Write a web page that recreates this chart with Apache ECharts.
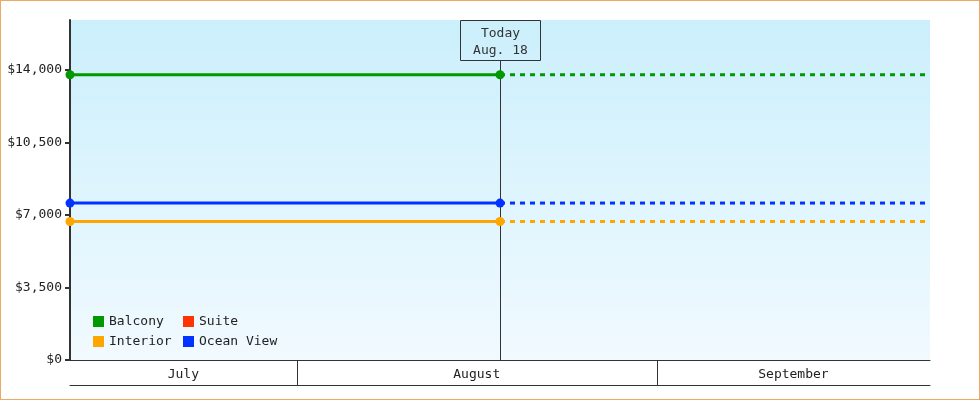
<!DOCTYPE html>
<html>
<head>
<meta charset="utf-8">
<script src="https://cdn.jsdelivr.net/npm/echarts@6/dist/echarts.min.js"></script>
<style>
  html, body { margin: 0; padding: 0; background: #fff; }
  #wrap { position: relative; width: 980px; height: 400px; }
  #main { width: 980px; height: 400px; }
  #frame { position: absolute; left: 0; top: 0; width: 980px; height: 400px; box-sizing: border-box; border: 1px solid #eba866; pointer-events: none; }
</style>
</head>
<body>
<div id="wrap">
  <div id="main"></div>
  <div id="frame"></div>
</div>
<script>
// cabin prices, known up to today, projected after
const seriesNames = ['Balcony', 'Suite', 'Interior', 'Ocean View']
const seriesColors = ['#009900', '#ff3300', '#ffa500', '#0033ff']
const currentPrices = [13760, null, 6680, 7570]

const rangeStart = '2024-07-12T12:00'
const today = '2024-08-18T12:00'
const rangeEnd = '2024-09-24T12:00'
const todayLabel = ['Today', 'Aug. 18']

const months = ['July', 'August', 'September']
const monthStart = ['2024-07-01T00:00', '2024-08-01T00:00', '2024-09-01T00:00']
const monthEnd = ['2024-08-01T00:00', '2024-09-01T00:00', '2024-10-01T00:00']

const yTicks = [0, 3500, 7000, 10500, 14000]
const yMax = 16400

const t = s => new Date(s).getTime()
const font = 'DejaVu Sans Mono'

var myChart = echarts.init(document.getElementById('main'))

let series = []
seriesNames.forEach(function (name, i) {
  let v = currentPrices[i]
  // solid part up to today, with dots
  series.push({
    name: name,
    type: 'line',
    color: seriesColors[i],
    data: v == null ? [] : [[t(rangeStart), v], [t(today), v]],
    symbol: 'circle',
    symbolSize: 9,
    lineStyle: { width: 3 },
    z: 3
  })
  // dashed projection after today
  series.push({
    name: name,
    type: 'line',
    color: seriesColors[i],
    data: v == null ? [] : [[t(today), v], [t(rangeEnd), v]],
    showSymbol: false,
    lineStyle: { width: 3, type: [5, 5] },
    z: 3
  })
})

// today marker: vertical line plus label box
series.push({
  type: 'custom',
  xAxisIndex: 0,
  yAxisIndex: 0,
  z: 1,
  silent: true,
  clip: false,
  data: [[t(today), 0]],
  renderItem: function (params, api) {
    let cs = params.coordSys
    let x = Math.round(api.coord([api.value(0), 0])[0]) + 0.5
    let bw = 80, bh = 40
    return {
      type: 'group',
      children: [
        {
          type: 'line',
          shape: { x1: x, y1: cs.y + bh, x2: x, y2: cs.y + cs.height },
          style: { stroke: '#333', lineWidth: 1 }
        },
        {
          type: 'rect',
          shape: { x: x - bw / 2, y: cs.y + 0.5, width: bw, height: bh },
          style: { fill: 'rgba(0,0,0,0)', stroke: '#333', lineWidth: 1 }
        },
        {
          type: 'text',
          x: x,
          y: cs.y + bh / 2 + 2,
          style: {
            text: todayLabel.join('\n'),
            font: '13px "' + font + '"',
            fill: '#333',
            align: 'center',
            verticalAlign: 'middle',
            lineHeight: 17
          }
        }
      ]
    }
  }
})

// month band under the plot
series.push({
  type: 'custom',
  xAxisIndex: 1,
  yAxisIndex: 1,
  silent: true,
  clip: false,
  data: months.map((m, i) => [t(monthStart[i]), t(monthEnd[i])]),
  renderItem: function (params, api) {
    let cs = params.coordSys
    let xs = api.coord([api.value(0), 0])[0]
    let xe = api.coord([api.value(1), 0])[0]
    let x0 = Math.max(xs, cs.x)
    let x1 = Math.min(xe, cs.x + cs.width)
    if (x1 <= x0) return
    let children = [{
      type: 'text',
      x: (x0 + x1) / 2,
      y: cs.y + cs.height / 2 + 2,
      style: {
        text: months[params.dataIndex],
        font: '13px "' + font + '"',
        fill: '#222',
        align: 'center',
        verticalAlign: 'middle'
      }
    }]
    if (xs > cs.x) {
      let lx = Math.round(xs) + 0.5
      children.push({
        type: 'line',
        shape: { x1: lx, y1: cs.y, x2: lx, y2: cs.y + cs.height },
        style: { stroke: '#333', lineWidth: 1 }
      })
    }
    return { type: 'group', children: children }
  }
})

var legendBase = {
  orient: 'vertical',
  top: 315,
  padding: 0,
  itemWidth: 11,
  itemHeight: 11,
  itemGap: 7,
  icon: 'rect',
  itemStyle: { borderWidth: 0 },
  textStyle: { fontFamily: font, fontSize: 13, color: '#222', padding: [2, 0, 0, 0] },
  selectedMode: false
}

var option = {
  animation: false,
  backgroundColor: '#fff',
  textStyle: { fontFamily: font },
  grid: [
    {
      left: 70, right: 50, top: 20, bottom: 40,
      show: true,
      borderWidth: 0,
      backgroundColor: {
        type: 'linear', x: 0, y: 0, x2: 0, y2: 1,
        colorStops: [{ offset: 0, color: '#cbeffc' }, { offset: 1, color: '#f1faff' }]
      }
    },
    { left: 70, right: 50, top: 360, height: 25 }
  ],
  legend: [
    Object.assign({}, legendBase, { left: 93, data: ['Balcony', 'Interior'] }),
    Object.assign({}, legendBase, { left: 183, data: ['Suite', 'Ocean View'] })
  ],
  xAxis: [
    {
      type: 'time',
      gridIndex: 0,
      min: t(rangeStart),
      max: t(rangeEnd),
      axisLine: { show: true, onZero: false, lineStyle: { color: '#333', width: 1 } },
      axisTick: { show: false },
      axisLabel: { show: false },
      splitLine: { show: false }
    },
    {
      type: 'time',
      gridIndex: 1,
      position: 'bottom',
      min: t(rangeStart),
      max: t(rangeEnd),
      axisLine: { show: true, onZero: false, lineStyle: { color: '#333', width: 1 } },
      axisTick: { show: false },
      axisLabel: { show: false },
      splitLine: { show: false }
    }
  ],
  yAxis: [
    {
      type: 'value',
      gridIndex: 0,
      min: 0,
      max: yMax,
      axisLine: { show: true, lineStyle: { color: '#333', width: 2 } },
      axisTick: { show: true, length: 5, lineStyle: { color: '#333', width: 2 }, customValues: yTicks },
      axisLabel: {
        margin: 8,
        color: '#222',
        fontFamily: font,
        fontSize: 13,
        padding: [3, 0, 0, 0],
        customValues: yTicks,
        formatter: v => '$' + v.toLocaleString('en-US')
      },
      splitLine: { show: false }
    },
    { type: 'value', gridIndex: 1, min: 0, max: 1, show: false }
  ],
  series: series
}

myChart.setOption(option)
</script>
</body>
</html>
